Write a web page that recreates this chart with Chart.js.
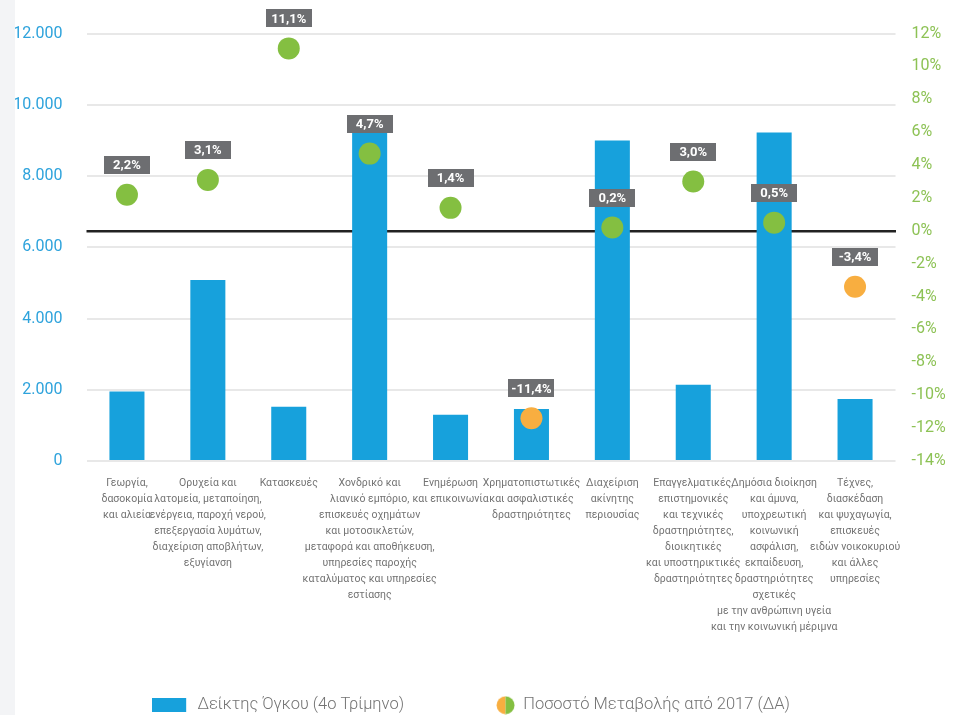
<!DOCTYPE html>
<html>
<head>
<meta charset="utf-8">
<script src="https://cdn.jsdelivr.net/npm/chart.js@4.4.1/dist/chart.umd.min.js"></script>
<style>
  html, body { margin: 0; padding: 0; background: #fff; }
  #wrap { position: absolute; left: 0; top: 0; width: 965px; height: 715px; border-left: 15px solid #f3f4f6; box-sizing: border-box; }
  #box { position: relative; width: 950px; height: 715px; }
</style>
</head>
<body>
<div id="wrap"><div id="box"><canvas id="chart"></canvas></div></div>
<script>
// sectors (x axis)
var sectorLabels = [
  ['Γεωργία,', 'δασοκομία', 'και αλιεία'],
  ['Ορυχεία και', 'λατομεία, μεταποίηση,', 'ενέργεια, παροχή νερού,', 'επεξεργασία λυμάτων,', 'διαχείριση αποβλήτων,', 'εξυγίανση'],
  ['Κατασκευές'],
  ['Χονδρικό και', 'λιανικό εμπόριο,', 'επισκευές οχημάτων', 'και μοτοσικλετών,', 'μεταφορά και αποθήκευση,', 'υπηρεσίες παροχής', 'καταλύματος και υπηρεσίες', 'εστίασης'],
  ['Ενημέρωση', 'και επικοινωνία'],
  ['Χρηματοπιστωτικές', 'και ασφαλιστικές', 'δραστηριότητες'],
  ['Διαχείριση', 'ακίνητης', 'περιουσίας'],
  ['Επαγγελματικές,', 'επιστημονικές', 'και τεχνικές', 'δραστηριότητες,', 'διοικητικές', 'και υποστηρικτικές', 'δραστηριότητες'],
  ['Δημόσια διοίκηση', 'και άμυνα,', 'υποχρεωτική', 'κοινωνική', 'ασφάλιση,', 'εκπαίδευση,', 'δραστηριότητες', 'σχετικές', 'με την ανθρώπινη υγεία', 'και την κοινωνική μέριμνα'],
  ['Τέχνες,', 'διασκέδαση', 'και ψυχαγωγία,', 'επισκευές', 'ειδών νοικοκυριού', 'και άλλες', 'υπηρεσίες']
];

// volume index, Q4 (left axis)
var volumeIndex = [1950, 5080, 1520, 9600, 1300, 1460, 9000, 2140, 9220, 1740];

// % change since 2017 (right axis)
var changePct = [2.2, 3.1, 11.1, 4.7, 1.4, -11.4, 0.2, 3.0, 0.5, -3.4];

var seriesNames = ['Δείκτης Όγκου (4ο Τρίμηνο)', 'Ποσοστό Μεταβολής από 2017 (ΔΑ)'];

var BLUE = '#17a1dc';
var GREEN = '#84bf41';
var ORANGE = '#f8ae40';
var GREY_TEXT = '#737373';

function fmtThousands(v) {
  return String(v).replace(/\B(?=(\d{3})+(?!\d))/g, '.');
}
function fmtPct(v) {
  return v.toFixed(1).replace('.', ',') + '%';
}

// legend swatches
function barSwatch() {
  var c = document.createElement('canvas');
  c.width = 37; c.height = 14;
  var g = c.getContext('2d');
  g.fillStyle = BLUE;
  g.fillRect(0, 0, 34, 14);
  return c;
}
function dotSwatch() {
  var c = document.createElement('canvas');
  c.width = 37; c.height = 19;
  var g = c.getContext('2d');
  var cx = 27.5, cy = 9.5, r = 9;
  g.fillStyle = ORANGE;
  g.beginPath(); g.arc(cx, cy, r, Math.PI / 2, Math.PI * 1.5); g.closePath(); g.fill();
  g.fillStyle = GREEN;
  g.beginPath(); g.arc(cx, cy, r, -Math.PI / 2, Math.PI / 2); g.closePath(); g.fill();
  return c;
}

var pctLabels = {
  id: 'pctLabels',
  afterDatasetsDraw: function (chart) {
    var meta = chart.getDatasetMeta(1);
    var ctx = chart.ctx;
    ctx.save();
    ctx.font = 'bold 13px Roboto, "Liberation Sans", sans-serif';
    ctx.textAlign = 'center';
    ctx.textBaseline = 'middle';
    meta.data.forEach(function (pt, i) {
      var cy = pt.y - 30;
      ctx.fillStyle = '#6d6e71';
      ctx.fillRect(Math.round(pt.x - 23), Math.round(cy - 9), 46, 18);
      ctx.fillStyle = '#ffffff';
      ctx.fillText(fmtPct(changePct[i]), pt.x, cy + 1);
    });
    ctx.restore();
  }
};

// nudge the legend row to where it sits in the original
var legendShift = {
  id: 'legendShift',
  afterLayout: function (chart) {
    var lg = chart.legend;
    if (!lg) return;
    lg.left -= 19; lg.right -= 19;
    lg.top -= 16;
    lg.bottom = chart.height;
  }
};

new Chart(document.getElementById('chart'), {
  data: {
    labels: sectorLabels,
    datasets: [
      {
        type: 'bar',
        label: seriesNames[0],
        data: volumeIndex,
        backgroundColor: BLUE,
        yAxisID: 'y',
        barPercentage: 0.433,
        categoryPercentage: 1.0,
        order: 2
      },
      {
        type: 'line',
        label: seriesNames[1],
        data: changePct,
        yAxisID: 'y1',
        showLine: false,
        pointRadius: 11,
        pointHoverRadius: 11,
        pointBorderWidth: 0,
        pointBackgroundColor: changePct.map(function (v) { return v < 0 ? ORANGE : GREEN; }),
        order: 1
      }
    ]
  },
  options: {
    responsive: true,
    maintainAspectRatio: false,
    animation: false,
    layout: { padding: { top: 31, left: 0, right: 0, bottom: 0 } },
    plugins: {
      tooltip: { enabled: false },
      legend: {
        position: 'bottom',
        maxHeight: 76,
        labels: {
          usePointStyle: true,
          pointStyleWidth: 37,
          boxHeight: 16,
          padding: 74,
          color: GREY_TEXT,
          font: { family: 'Roboto, "Noto Sans", sans-serif', size: 16.5, weight: '300' },
          generateLabels: function () {
            return [
              { text: seriesNames[0], pointStyle: barSwatch(), fillStyle: BLUE, strokeStyle: 'transparent', lineWidth: 0, fontColor: GREY_TEXT, datasetIndex: 0, hidden: false },
              { text: seriesNames[1], pointStyle: dotSwatch(), fillStyle: GREEN, strokeStyle: 'transparent', lineWidth: 0, fontColor: GREY_TEXT, datasetIndex: 1, hidden: false }
            ];
          }
        },
        onClick: function () {}
      }
    },
    scales: {
      x: {
        grid: { display: false, drawTicks: false },
        border: { display: false },
        ticks: {
          autoSkip: false,
          maxRotation: 0,
          minRotation: 0,
          padding: 14,
          color: GREY_TEXT,
          font: { family: 'Roboto, sans-serif', size: 10.5, lineHeight: '16px' }
        },
        afterFit: function (scale) { scale.height = 178; }
      },
      y: {
        position: 'left',
        min: 0,
        max: 12000,
        ticks: {
          stepSize: 2000,
          padding: 24,
          color: '#2ea3dc',
          font: { family: 'Roboto, "Noto Sans", sans-serif', size: 16 },
          callback: function (v) { return fmtThousands(v); }
        },
        grid: { color: '#e8e8e8', lineWidth: 2, drawTicks: false },
        border: { display: false },
        afterFit: function (scale) { scale.width = 71.5; }
      },
      y1: {
        position: 'right',
        min: -14,
        max: 12,
        ticks: {
          stepSize: 2,
          padding: 16,
          color: '#8dc255',
          font: { family: 'Roboto, "Noto Sans", sans-serif', size: 16 },
          callback: function (v) { return v + '%'; }
        },
        grid: {
          drawTicks: false,
          color: function (c) { return c.tick && c.tick.value === 0 ? '#222222' : 'rgba(0,0,0,0)'; },
          lineWidth: function (c) { return c.tick && c.tick.value === 0 ? 2.5 : 0; }
        },
        border: { display: false },
        afterFit: function (scale) { scale.width = 69.5; }
      }
    }
  },
  plugins: [pctLabels, legendShift]
});
</script>
</body>
</html>
